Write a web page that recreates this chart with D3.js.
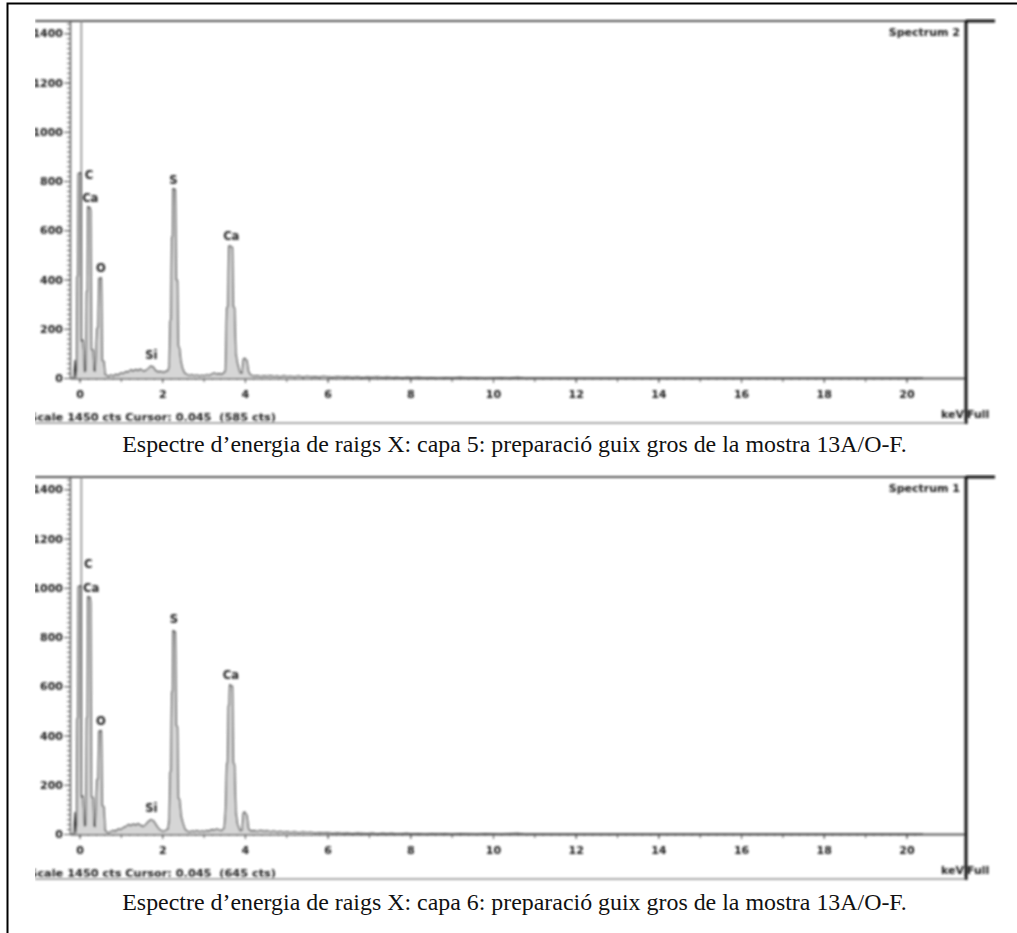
<!DOCTYPE html>
<html>
<head>
<meta charset="utf-8">
<script src="https://cdn.jsdelivr.net/npm/d3@7/dist/d3.min.js"></script>
<style>
  html, body { margin: 0; padding: 0; background: #fff; }
  svg { display: block; }
</style>
</head>
<body>
<script>
// ---- EDS spectra (energy in keV, intensity in counts) ----
const spec2Energy = [-0.14,-0.11,-0.09,-0.07,-0.06,-0.04,-0.03,0.03,0.045,0.08,0.10,0.12,0.15,0.17,0.19,0.20,0.26,0.27,0.29,0.33,0.35,0.38,0.42,0.45,0.47,0.53,0.55,0.59,0.62,0.66,
  0.70,0.76,0.82,0.88,0.94,1.00,1.06,1.12,1.18,1.24,1.30,1.36,1.42,1.48,1.54,1.60,1.66,1.72,1.78,1.84,1.90,1.96,2.02,2.08,2.14,
  2.17,2.19,2.21,2.23,2.25,2.26,2.32,2.34,2.37,2.39,2.42,2.45,2.49,2.54,
  2.60,2.66,2.72,2.78,2.84,2.90,2.96,3.02,3.08,3.14,3.20,3.26,3.32,3.38,3.44,3.50,
  3.53,3.56,3.59,3.61,3.63,3.70,3.72,3.75,3.78,3.82,3.88,3.93,3.96,3.99,4.05,4.09,4.14,
  4.22,4.30,4.38,4.46,4.54,4.62,4.70,4.78,4.86,4.94,5.02,5.10,5.20,5.30,5.40,5.50,5.60,5.70,5.80,5.90,6.00,6.12,6.24,6.36,6.48,6.60,6.72,6.84,6.96,7.08,7.20,7.32,7.44,7.56,7.68,7.80,7.92,8.04,8.20,8.36,8.52,8.68,8.84,9.00,9.20,9.40,9.60,9.80,10.00,10.20,10.40,10.60,10.75,10.90,20.40];
const spec2Counts = [0,72,4,30,410,415,830,834,150,155,110,25,28,350,355,696,690,680,115,114,30,28,200,207,405,407,70,68,14,10,
  6,12,8,15,12,20,18,26,24,33,28,34,30,36,28,30,38,48,45,30,25,27,22,26,30,
  45,230,238,570,575,769,765,400,395,130,120,70,40,20,
  14,10,13,9,12,8,11,9,13,10,16,20,15,18,14,22,
  30,285,290,535,537,530,290,285,100,60,22,20,75,81,70,25,12,
  8,10,6,9,7,10,6,8,5,9,6,7,5,8,4,7,5,6,4,7,5,3,6,4,5,3,5,2,4,3,5,2,4,2,3,1,3,2,3,1,2,0,2,1,3,1,2,0,1,2,0,3,1,0,0];

const spec1Energy = [-0.14,-0.11,-0.09,-0.07,-0.06,-0.04,-0.03,0.03,0.045,0.08,0.10,0.12,0.15,0.17,0.19,0.20,0.26,0.27,0.29,0.33,0.35,0.38,0.42,0.45,0.47,0.53,0.55,0.59,0.62,0.66,
  0.70,0.76,0.82,0.88,0.94,1.00,1.06,1.12,1.18,1.24,1.30,1.36,1.42,1.48,1.54,1.60,1.66,1.72,1.78,1.84,1.90,1.96,2.02,2.08,2.14,
  2.17,2.19,2.21,2.23,2.25,2.26,2.32,2.34,2.37,2.39,2.42,2.46,2.50,2.55,
  2.60,2.66,2.72,2.78,2.84,2.90,2.96,3.02,3.08,3.14,3.20,3.26,3.32,3.38,3.44,3.50,
  3.53,3.56,3.58,3.60,3.62,3.63,3.70,3.72,3.75,3.78,3.82,3.88,3.93,3.96,3.99,4.05,4.09,4.14,
  4.22,4.30,4.38,4.46,4.54,4.62,4.70,4.78,4.86,4.94,5.02,5.10,5.20,5.30,5.40,5.50,5.60,5.70,5.80,5.90,6.00,6.12,6.24,6.36,6.48,6.60,6.72,6.84,6.96,7.08,7.20,7.32,7.44,7.56,7.68,7.80,7.92,8.04,8.20,8.36,8.52,8.68,8.84,9.00,9.20,9.40,9.60,9.80,10.00,10.20,10.40,10.60,10.75,10.90,20.40];
const spec1Counts = [0,88,5,35,468,472,1005,1009,150,155,100,33,35,470,475,964,960,940,150,148,33,30,220,224,418,420,115,110,14,8,
  5,10,14,12,20,18,26,30,38,34,40,36,42,35,30,38,50,58,55,40,25,15,10,14,20,
  60,250,255,575,580,826,820,440,435,145,140,70,45,20,
  12,8,12,10,14,9,12,10,14,12,18,15,20,16,14,24,
  90,285,290,520,525,606,600,290,280,90,40,14,15,85,90,75,20,12,
  14,10,15,11,13,9,12,8,11,7,10,6,9,5,8,6,7,4,6,5,6,3,5,3,4,2,4,3,2,4,1,3,2,3,1,2,3,1,2,0,2,1,2,0,2,1,0,2,1,0,2,3,1,0,0];

// Peak identification labels: element, energy (keV), counts where the label sits
const spec2LabelText = ["C", "Ca", "O", "Si", "S", "Ca"];
const spec2LabelKeV  = [0.23, 0.26, 0.52, 1.74, 2.27, 3.67];
const spec2LabelCts  = [825, 731, 447, 93, 804, 577];
const spec1LabelText = ["C", "Ca", "O", "Si", "S", "Ca"];
const spec1LabelKeV  = [0.21, 0.28, 0.52, 1.74, 2.28, 3.66];
const spec1LabelCts  = [1096, 998, 459, 106, 873, 646];

// Axis ticks
const yTickValues = [0, 200, 400, 600, 800, 1000, 1200, 1400];
const yTickLabels = ["0", "200", "400", "600", "800", "1000", "1200", "1400"];
const xTickValues = [0, 2, 4, 6, 8, 10, 12, 14, 16, 18, 20];
const xTickLabels = ["0", "2", "4", "6", "8", "10", "12", "14", "16", "18", "20"];

const fullScale = 1450;        // counts at the top of the plot
const energyRange = [-0.23, 21.44];
const cursorKeV = 0.045;

const panelTitles = ["Spectrum 2", "Spectrum 1"];
const cursorCounts = [585, 645];
const captions = [
  "Espectre d\u2019energia de raigs X: capa 5: preparació guix gros de la mostra 13A/O-F.",
  "Espectre d\u2019energia de raigs X: capa 6: preparació guix gros de la mostra 13A/O-F."
];

const W = 1017, H = 933;
const svg = d3.select("body").append("svg").attr("width", W).attr("height", H);
svg.append("rect").attr("width", W).attr("height", H).attr("fill", "#fff");

const defs = svg.append("defs");
defs.append("filter").attr("id", "soft")
  .attr("x", "-5%").attr("y", "-5%").attr("width", "110%").attr("height", "110%")
  .append("feGaussianBlur").attr("stdDeviation", 0.8);

// outer frame (top and left edges)
svg.append("path").attr("d", `M7.5,${H} V3.5 H${W}`)
  .attr("fill", "none").attr("stroke", "#000").attr("stroke-width", 2);

const sans = "'DejaVu Sans', Verdana, sans-serif";
const serif = "'Liberation Serif', 'Times New Roman', Times, serif";
const captionY = [452, 910];

const panels = [
  { top: 21, energy: spec2Energy, counts: spec2Counts, lt: spec2LabelText, lk: spec2LabelKeV, lc: spec2LabelCts },
  { top: 477, energy: spec1Energy, counts: spec1Counts, lt: spec1LabelText, lk: spec1LabelKeV, lc: spec1LabelCts }
];

function chartText(g, x, y, str, anchor, size) {
  return g.append("text").attr("x", x).attr("y", y)
    .attr("text-anchor", anchor).attr("dominant-baseline", "central")
    .attr("font-family", sans).attr("font-size", size).attr("font-weight", "bold")
    .attr("fill", "#1a1a1a").text(str);
}

panels.forEach((p, i) => {
  const top = p.top;
  const plotLeft = 70, plotRight = 966, plotBottom = top + 357;
  const x = d3.scaleLinear().domain(energyRange).range([plotLeft, plotRight]);
  const y = d3.scaleLinear().domain([0, fullScale]).range([plotBottom, top]);

  const clipId = "clip" + i;
  defs.append("clipPath").attr("id", clipId)
    .append("rect").attr("x", 35).attr("y", top - 3).attr("width", W - 35).attr("height", 410);

  const g = svg.append("g").attr("clip-path", `url(#${clipId})`)
    .append("g").attr("filter", "url(#soft)");

  // top edge of the spectrum window
  g.append("line").attr("x1", 35).attr("x2", plotRight).attr("y1", top).attr("y2", top)
    .attr("stroke", "#555").attr("stroke-width", 2);

  // y axis: minor ticks every 20 counts, major every 200
  const yMinor = d3.axisLeft(y).tickValues(d3.range(0, 1441, 20)).tickSize(3).tickFormat("").tickSizeOuter(0);
  const yMajor = d3.axisLeft(y).tickValues(yTickValues).tickSize(6).tickSizeOuter(0)
    .tickFormat((d, k) => yTickLabels[k]).tickPadding(1);
  [yMinor, yMajor].forEach(ax => {
    const a = g.append("g").attr("transform", `translate(${plotLeft},0)`).call(ax);
    a.select(".domain").attr("stroke", "#555").attr("stroke-width", 1.2);
    a.selectAll(".tick line").attr("stroke", "#555").attr("stroke-width", 1);
    a.selectAll("text").attr("font-family", sans).attr("font-size", 11)
      .attr("font-weight", "bold").attr("fill", "#1a1a1a");
  });

  // x axis: minor ticks every 0.2 keV, longer ones each keV, labels every 2 keV
  const xMinor = d3.axisBottom(x).tickValues(d3.range(0, 102).map(k => k * 0.2))
    .tickSize(2).tickFormat("").tickSizeOuter(0);
  const xMid = d3.axisBottom(x).tickValues(d3.range(0, 21)).tickSize(4).tickFormat("").tickSizeOuter(0);
  const xMajor = d3.axisBottom(x).tickValues(xTickValues).tickSize(5).tickSizeOuter(0)
    .tickFormat((d, k) => xTickLabels[k]).tickPadding(7);
  [xMinor, xMid, xMajor].forEach(ax => {
    const a = g.append("g").attr("transform", `translate(0,${plotBottom})`).call(ax);
    a.select(".domain").attr("stroke", "#666").attr("stroke-width", 1.4);
    a.selectAll(".tick line").attr("stroke", "#555").attr("stroke-width", 1);
    a.selectAll("text").attr("font-family", sans).attr("font-size", 11)
      .attr("font-weight", "bold").attr("fill", "#1a1a1a");
  });

  // cursor marker
  g.append("line").attr("x1", x(cursorKeV)).attr("x2", x(cursorKeV))
    .attr("y1", top).attr("y2", plotBottom)
    .attr("stroke", "#888").attr("stroke-width", 1.5);

  // spectrum trace, lightly filled down to the energy axis
  const pts = p.energy.map((e, k) => [e, p.counts[k]]);
  const area = d3.area().x(d => x(d[0])).y0(y(0)).y1(d => y(d[1]));
  const line = d3.line().x(d => x(d[0])).y(d => y(d[1]));
  g.append("path").datum(pts).attr("d", area).attr("fill", "#d6d6d6");
  g.append("path").datum(pts).attr("d", line)
    .attr("fill", "none").attr("stroke", "#333").attr("stroke-width", 1.2)
    .attr("stroke-linejoin", "round");

  // peak labels
  p.lt.forEach((t, k) => chartText(g, x(p.lk[k]), y(p.lc[k]), t, "middle", 11.5));

  // spectrum name
  chartText(g, 960, top + 11, panelTitles[i], "end", 11);

  // status line under the axis
  chartText(g, 276, top + 396,
    `Full Scale ${fullScale} cts Cursor: ${cursorKeV}  (${cursorCounts[i]} cts)`, "end", 11.3)
    .style("white-space", "pre");

  g.append("line").attr("x1", 35).attr("x2", plotRight).attr("y1", top + 402).attr("y2", top + 402)
    .attr("stroke", "#aaa").attr("stroke-width", 2);

  chartText(g, 964, top + 393, "keV", "end", 11);
  chartText(g, 967, top + 393, "Full", "start", 11);

  // right-hand window divider
  g.append("line").attr("x1", plotRight).attr("x2", plotRight).attr("y1", top - 1).attr("y2", top + 403)
    .attr("stroke", "#111").attr("stroke-width", 3);
  g.append("line").attr("x1", plotRight).attr("x2", 995).attr("y1", top).attr("y2", top)
    .attr("stroke", "#111").attr("stroke-width", 3);

  // figure caption
  svg.append("text").attr("x", 514.5).attr("y", captionY[i])
    .attr("text-anchor", "middle")
    .attr("font-family", serif).attr("font-size", 23.9)
    .attr("fill", "#111").text(captions[i]);
});
</script>
</body>
</html>
